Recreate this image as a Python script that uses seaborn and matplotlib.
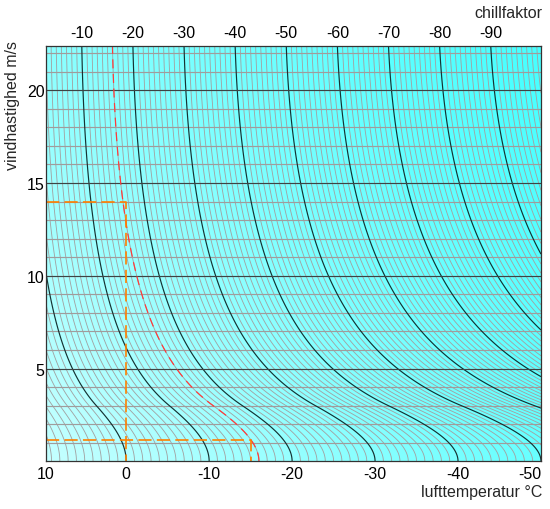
import numpy as np
import pandas as pd
import matplotlib
matplotlib.use("Agg")
import matplotlib.pyplot as plt
import seaborn as sns

# ---------------- data ----------------
temp_range = [9.67, -50.0]              # x axis (air temperature, reversed)
wind_range = [0.0, 22.4]                # y axis (wind speed m/s)
bottom_tick_pos = [9.67, 0, -10, -20, -30, -40, -50]
bottom_tick_labels = ["10", "0", "-10", "-20", "-30", "-40", "-50"]
wind_ticks = [5, 10, 15, 20]
wind_grid = list(range(1, 23))
chill_major = [0, -10, -20, -30, -40, -50, -60, -70, -80, -90]
chill_top = [-10, -20, -30, -40, -50, -60, -70, -80, -90]
chill_minor = list(range(-100, 11))
# worked example: 0 degC at 14 m/s feels like -15 degC at ~1.15 m/s
ex_temp = [0, -15]
ex_wind = [14, 1.15]
ex_chill = -16

# wind-chill model parameters (Siple-type heat loss, blended to calm air)
skin_temp = 30.0
ref_k = 21.8
blend_wind = 3.0


def gain(v):
    v = np.asarray(v, dtype=float)
    fs = (10.45 + 10 * np.sqrt(v) - v) / ref_k
    v1 = blend_wind
    g1 = (10.45 + 10 * np.sqrt(v1) - v1) / ref_k
    d1 = (5 / np.sqrt(v1) - 1) / ref_k
    a = (3 * (g1 - 1) - v1 * d1) / v1 ** 2
    b = (v1 * d1 - 2 * (g1 - 1)) / v1 ** 3
    cubic = 1 + a * v ** 2 + b * v ** 3
    return np.where(v < v1, cubic, fs)


def chill(t, v):
    return skin_temp - (skin_temp - t) * gain(v)


# ---------------- figure ----------------
sns.set_theme(style="white")
plt.rcParams["font.family"] = ["Liberation Sans", "DejaVu Sans"]
plt.rcParams["axes.unicode_minus"] = False
plt.rcParams["lines.scale_dashes"] = False
plt.rcParams["contour.negative_linestyle"] = "solid"

FS = 11.5
fig = plt.figure(figsize=(5.5, 5.1), dpi=100)
ax = fig.add_axes([0.0836, 0.0935, 0.9, 0.8149])

# background gradient
ny, nx = 60, 60
fy = np.linspace(0, 1, ny)[:, None]
fx = np.linspace(0, 1, nx)[None, :]
bl, tl, br, tr = 0xC4 / 255, 0x8A / 255, 0x68 / 255, 0x46 / 255
red = (bl * (1 - fx) * (1 - fy) + br * fx * (1 - fy) + tl * (1 - fx) * fy + tr * fx * fy)
img = np.dstack([red, np.ones_like(red), np.ones_like(red)])
ax.imshow(img, extent=(temp_range[0], temp_range[1], wind_range[0], wind_range[1]),
          origin="lower", aspect="auto", interpolation="bilinear", zorder=0)

T = np.linspace(temp_range[0], temp_range[1], 500)
V = np.linspace(wind_range[0], wind_range[1], 500)
TT, VV = np.meshgrid(T, V)
C = chill(TT, VV)

minor = sorted(c for c in chill_minor if c not in chill_major)
major = sorted(chill_major)
ax.contour(TT, VV, C, levels=minor, colors="#a2a2a2", linewidths=0.62,
           linestyles="solid", negative_linestyles="solid", zorder=1)
for w in wind_grid:
    ax.axhline(w, color="#a09c9c", lw=0.85, zorder=1.5)
ax.contour(TT, VV, C, levels=major, colors="#163232", linewidths=0.85,
           linestyles="solid", negative_linestyles="solid", zorder=2)
for w in wind_ticks:
    ax.axhline(w, color="#3c4444", lw=0.8, zorder=2)

cs = ax.contour(TT, VV, C, levels=[ex_chill], colors="#ff3b3b", linewidths=0.9, zorder=3)
cs.set_linestyle((0, (6.5, 4)))

# example paths (orange dashed)
for t, w in zip(ex_temp, ex_wind):
    path = pd.DataFrame({"t": [temp_range[0], t, t], "w": [w, w, 0.0]})
    sns.lineplot(data=path, x="t", y="w", sort=False, estimator=None, ax=ax,
                 color="#ff8000", lw=1.2, zorder=4)
for line in ax.lines[-len(ex_temp):]:
    line.set_linestyle((0, (9.5, 3.8)))

ax.set_xlim(temp_range)
ax.set_ylim(wind_range)
ax.set_xlabel("")
ax.set_ylabel("")
ax.set_xticks(bottom_tick_pos)
ax.set_xticklabels(bottom_tick_labels)
ax.get_xticklabels()[-1].set_ha("right")
ax.set_yticks(wind_ticks)
ax.set_yticklabels([str(w) for w in wind_ticks])
ax.tick_params(axis="x", length=0, pad=3.5, labelsize=FS, colors="black")
ax.tick_params(axis="y", length=0, pad=1.0, labelsize=FS, colors="black")
for s in ax.spines.values():
    s.set_color("#333333")
    s.set_linewidth(0.9)
    s.set_zorder(5)

# top axis: chill-factor values where contours meet the top edge
ax2 = ax.twiny()
ax2.set_xlim(ax.get_xlim())
g_top = float(gain(wind_range[1]))
top_pos = [skin_temp - (skin_temp - c) / g_top for c in chill_top]
ax2.set_xticks(top_pos)
ax2.set_xticklabels([str(c) for c in chill_top])
ax2.tick_params(axis="x", length=0, pad=4, labelsize=FS, colors="black")
for s in ax2.spines.values():
    s.set_visible(False)
ax2.grid(False)

fig.text(542 / 550, 1 - 14 / 510, "chillfaktor", ha="right", va="center", fontsize=FS)
fig.text(542 / 550, 1 - 493 / 510, "lufttemperatur °C", ha="right", va="center", fontsize=FS)
fig.text(13 / 550, 1 - 106 / 510, "vindhastighed m/s", ha="center", va="center",
         rotation=90, fontsize=FS)

fig.savefig("out.png", dpi=100)
